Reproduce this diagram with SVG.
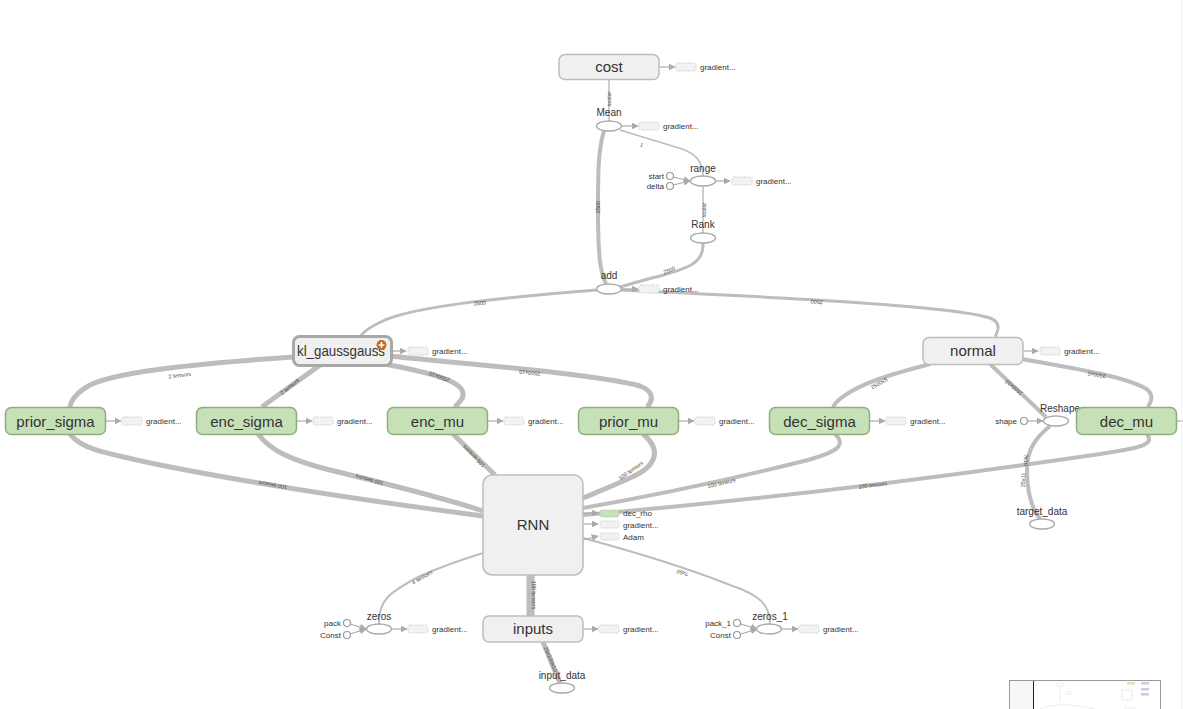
<svg xmlns="http://www.w3.org/2000/svg" width="1183" height="709" viewBox="0 0 1183 709">
<style>
text{font-family:"Liberation Sans",Arial,sans-serif;fill:#333}
.nt{font-size:15px;text-anchor:middle}
.ot{font-size:10px;text-anchor:middle}
.st{font-size:8px}
.sr{font-size:8px;text-anchor:end}
.el{font-size:5.5px;text-anchor:middle;fill:#444}
.gn{fill:#f0f0f0;stroke:#bdbdbd;stroke-width:1.5}
.gr{fill:#c6e1b7;stroke:#8fad7d;stroke-width:1.5}
.op{fill:#fff;stroke:#aaa;stroke-width:1.3}
.cn{fill:#fff;stroke:#999;stroke-width:1.2}
.ph{fill:#f2f2f2;stroke:#c8c8c8;stroke-width:0.8;stroke-dasharray:1.5 1}
.phg{fill:#c6e1b7;stroke:#a7c495;stroke-width:0.8;stroke-dasharray:1.5 1}
.e{fill:none;stroke:#bdbdbd;stroke-linecap:butt}
.a{fill:none;stroke:#aaa;stroke-width:1.2}
</style>
<defs>
<marker id="ah" viewBox="0 0 10 10" refX="9" refY="5" markerWidth="7" markerHeight="7" markerUnits="userSpaceOnUse" orient="auto">
<path d="M0,0 L10,5 L0,10 z" fill="#aaa"/>
</marker>
</defs>
<rect width="1183" height="709" fill="#fff"/>

<g id="connectors">
<line class="e" x1="609" y1="79" x2="609" y2="121" stroke-width="1.5"/>
<path class="e" stroke-width="1.5" d="M620,130 L682,149 Q703,156 703,176"/>
<line class="e" x1="703" y1="186" x2="703" y2="233" stroke-width="1.5"/>
<path class="e" stroke-width="4" d="M604,131 C598,150 598,175 598,210 C598,255 600,272 606,284"/>
<path class="e" stroke-width="3" d="M703,243 C704,262 690,268 660,276 C640,281 626,285 618,288"/>
<path class="e" stroke-width="3" d="M597,290 C520,296 420,305 385,320 C372,326 363,332 361,336"/>
<path class="e" stroke-width="3" d="M621,290 C750,296 950,305 990,318 C1002,323 998,331 995,337"/>
<path class="e" stroke-width="5" d="M293,357 C220,362 120,370 90,385 C76,393 71,400 70,407"/>
<path class="e" stroke-width="5" d="M320,365 C300,380 280,393 262,407"/>
<path class="e" stroke-width="5" d="M385,364 C420,371 455,378 462,390 C466,398 458,403 455,407"/>
<path class="e" stroke-width="5" d="M389,356 C480,365 600,375 640,386 C656,392 652,402 647,407"/>
<path class="e" stroke-width="5" d="M70,434 C80,448 100,452 160,465 C260,485 400,505 483,516"/>
<path class="e" stroke-width="5" d="M258,434 C270,450 290,460 330,470 C400,487 450,500 483,511"/>
<path class="e" stroke-width="5" d="M453,434 L495,475"/>
<path class="e" stroke-width="5" d="M643,434 C660,448 660,465 630,478 C610,487 595,493 583,498"/>
<path class="e" stroke-width="4" d="M835,434 C846,445 840,452 800,462 C720,482 640,498 583,508"/>
<path class="e" stroke-width="4" d="M1147,434 C1155,445 1140,448 1100,454 C950,476 760,500 583,515"/>
<path class="e" stroke-width="4" d="M930,364 C900,372 870,380 850,392 C840,398 835,403 833,407"/>
<path class="e" stroke-width="4" d="M990,364 L1046,417"/>
<path class="e" stroke-width="4" d="M1022,359 C1070,368 1120,375 1145,388 C1156,395 1150,403 1148,407"/>
<path class="e" stroke-width="4" d="M1050,426 C1035,438 1027,450 1027,470 C1027,495 1033,510 1040,519"/>
<path class="e" stroke-width="2" d="M379,624 C378,600 390,592 420,576 C450,563 470,557 483,553"/>
<path class="e" stroke-width="2" d="M770,624 C770,605 760,595 730,585 C680,565 620,548 583,538"/>
<line class="e" x1="530.5" y1="575" x2="530.5" y2="616" stroke-width="8"/>
<path class="e" stroke-width="5" d="M543,642 L560,683"/>

<!-- small arrows -->
<line class="a" x1="659" y1="67" x2="675" y2="67" marker-end="url(#ah)"/>
<line class="a" x1="622" y1="126" x2="638" y2="126" marker-end="url(#ah)"/>
<line class="a" x1="716" y1="181" x2="730" y2="181" marker-end="url(#ah)"/>
<line class="a" x1="622" y1="289" x2="638" y2="289" marker-end="url(#ah)"/>
<line class="a" x1="392" y1="351" x2="406" y2="351" marker-end="url(#ah)"/>
<line class="a" x1="1023" y1="351" x2="1038" y2="351" marker-end="url(#ah)"/>
<line class="a" x1="106" y1="421" x2="121" y2="421" marker-end="url(#ah)"/>
<line class="a" x1="297" y1="421" x2="312" y2="421" marker-end="url(#ah)"/>
<line class="a" x1="488" y1="421" x2="503" y2="421" marker-end="url(#ah)"/>
<line class="a" x1="678" y1="421" x2="694" y2="421" marker-end="url(#ah)"/>
<line class="a" x1="870" y1="421" x2="885" y2="421" marker-end="url(#ah)"/>
<line class="a" x1="1177" y1="421" x2="1183" y2="421"/>
<line class="a" x1="1028" y1="421" x2="1043" y2="421" marker-end="url(#ah)"/>
<line class="a" x1="673" y1="177" x2="690" y2="181" marker-end="url(#ah)"/>
<line class="a" x1="673" y1="185" x2="690" y2="181" marker-end="url(#ah)"/>
<line class="a" x1="583" y1="513" x2="598" y2="513" marker-end="url(#ah)"/>
<line class="a" x1="583" y1="524" x2="598" y2="524" marker-end="url(#ah)"/>
<line class="a" x1="583" y1="540" x2="598" y2="536" marker-end="url(#ah)"/>
<line class="a" x1="350" y1="624" x2="366" y2="629" marker-end="url(#ah)"/>
<line class="a" x1="350" y1="634" x2="366" y2="629" marker-end="url(#ah)"/>
<line class="a" x1="392" y1="629" x2="407" y2="629" marker-end="url(#ah)"/>
<line class="a" x1="583" y1="629" x2="598" y2="629" marker-end="url(#ah)"/>
<line class="a" x1="741" y1="624" x2="757" y2="629" marker-end="url(#ah)"/>
<line class="a" x1="741" y1="634" x2="757" y2="629" marker-end="url(#ah)"/>
<line class="a" x1="782" y1="629" x2="798" y2="629" marker-end="url(#ah)"/>

<!-- edge labels -->
<text class="el" transform="translate(611,99) rotate(-90)">scalar</text>
<text class="el" transform="translate(641,147) rotate(17)">1</text>
<text class="el" transform="translate(600,207) rotate(-90)">2500</text>
<text class="el" transform="translate(706,210) rotate(-90)">scalar</text>
<text class="el" transform="translate(670,272) rotate(-22)">2500</text>
<text class="el" transform="translate(480,305) rotate(-5)">2500</text>
<text class="el" transform="translate(817,300) rotate(184)">2500</text>
<text class="el" transform="translate(180,377) rotate(-7)">2 tensors</text>
<text class="el" transform="translate(291,388) rotate(-40)">2 tensors</text>
<text class="el" transform="translate(440,375) rotate(200)">2500x10</text>
<text class="el" transform="translate(530,371) rotate(186)">2500x10</text>
<text class="el" transform="translate(273,483) rotate(190)">100 tensors</text>
<text class="el" transform="translate(370,478) rotate(196)">100 tensors</text>
<text class="el" transform="translate(475,455) rotate(225)">100 tensors</text>
<text class="el" transform="translate(632,472) rotate(-35)">100 tensors</text>
<text class="el" transform="translate(722,485) rotate(-13)">100 tensors</text>
<text class="el" transform="translate(873,487) rotate(-7)">100 tensors</text>
<text class="el" transform="translate(880,385) rotate(-30)">2500x5</text>
<text class="el" transform="translate(1015,386) rotate(220)">2500x10</text>
<text class="el" transform="translate(1097,373) rotate(190)">2500x5</text>
<text class="el" transform="translate(1024,460) rotate(90)">?x10</text>
<text class="el" transform="translate(1025,480) rotate(-88)">25x11</text>
<text class="el" transform="translate(423,579) rotate(-30)">4 tensors</text>
<text class="el" transform="translate(683,571) rotate(197)">?x50</text>
<text class="el" transform="translate(532,595) rotate(90)">100 tensors</text>
<text class="el" transform="translate(549,660) rotate(67)">25x100x10</text>
</g>

<g id="cost"><rect class="gn" x="559" y="54.5" width="100" height="25" rx="6"/><text class="nt" x="609" y="72">cost</text>
<rect class="ph" x="676" y="63" width="20" height="8" rx="2"/><text class="st" x="700" y="70">gradient...</text></g>

<g id="Mean"><text class="ot" x="609" y="116">Mean</text><ellipse class="op" cx="609" cy="126" rx="12.5" ry="5"/>
<rect class="ph" x="639" y="122" width="20" height="8" rx="2"/><text class="st" x="663" y="129">gradient...</text></g>

<g id="range"><text class="ot" x="703" y="172">range</text><ellipse class="op" cx="703" cy="181" rx="12.5" ry="5"/>
<rect class="ph" x="732" y="177" width="20" height="8" rx="2"/><text class="st" x="756" y="184">gradient...</text></g>

<g id="start"><circle class="cn" cx="670" cy="176" r="3.5"/><text class="sr" x="664" y="179">start</text></g>
<g id="delta"><circle class="cn" cx="670" cy="186" r="3.5"/><text class="sr" x="664" y="189">delta</text></g>

<g id="Rank"><text class="ot" x="703" y="228">Rank</text><ellipse class="op" cx="703" cy="238" rx="12.5" ry="5"/></g>

<g id="add"><text class="ot" x="609" y="279">add</text><ellipse class="op" cx="609" cy="289" rx="12.5" ry="5"/>
<rect class="ph" x="639" y="285" width="20" height="8" rx="2"/><text class="st" x="663" y="292">gradient...</text></g>

<g id="kl_gaussgauss"><rect x="293.5" y="336.5" width="98" height="29" rx="6" fill="#f0f0f0" stroke="#a8a8a8" stroke-width="3"/>
<text class="nt" x="341" y="356" textLength="88" lengthAdjust="spacingAndGlyphs">kl_gaussgauss</text>
<circle cx="381.5" cy="345" r="5" fill="#c36a1c"/><path d="M378.5,345 h6 M381.5,342 v6" stroke="#fff" stroke-width="1.6"/>
<rect class="ph" x="408" y="347" width="20" height="8" rx="2"/><text class="st" x="432" y="354">gradient...</text></g>

<g id="normal"><rect class="gn" x="923" y="337.5" width="100" height="27" rx="6"/><text class="nt" x="973" y="356">normal</text>
<rect class="ph" x="1040" y="347" width="20" height="8" rx="2"/><text class="st" x="1064" y="354">gradient...</text></g>

<g id="prior_sigma"><rect class="gr" x="5.5" y="407.5" width="100" height="27" rx="6"/><text class="nt" x="55.5" y="426.5">prior_sigma</text>
<rect class="ph" x="122" y="417" width="20" height="8" rx="2"/><text class="st" x="146" y="424">gradient...</text></g>

<g id="enc_sigma"><rect class="gr" x="196.5" y="407.5" width="100" height="27" rx="6"/><text class="nt" x="246.5" y="426.5">enc_sigma</text>
<rect class="ph" x="313" y="417" width="20" height="8" rx="2"/><text class="st" x="337" y="424">gradient...</text></g>

<g id="enc_mu"><rect class="gr" x="387.5" y="407.5" width="100" height="27" rx="6"/><text class="nt" x="437.5" y="426.5">enc_mu</text>
<rect class="ph" x="504" y="417" width="20" height="8" rx="2"/><text class="st" x="528" y="424">gradient...</text></g>

<g id="prior_mu"><rect class="gr" x="578.5" y="407.5" width="100" height="27" rx="6"/><text class="nt" x="628.5" y="426.5">prior_mu</text>
<rect class="ph" x="695" y="417" width="20" height="8" rx="2"/><text class="st" x="719" y="424">gradient...</text></g>

<g id="dec_sigma"><rect class="gr" x="769.5" y="407.5" width="100" height="27" rx="6"/><text class="nt" x="819.5" y="426.5">dec_sigma</text>
<rect class="ph" x="886" y="417" width="20" height="8" rx="2"/><text class="st" x="910" y="424">gradient...</text></g>

<g id="Reshape"><text class="ot" x="1060" y="412">Reshape</text><ellipse class="op" cx="1056" cy="421" rx="12.5" ry="5"/></g>
<g id="shape"><circle class="cn" cx="1024" cy="421" r="3.5"/><text class="sr" x="1017" y="424">shape</text></g>

<g id="dec_mu"><rect class="gr" x="1076.5" y="407.5" width="100" height="27" rx="6"/><text class="nt" x="1126.5" y="426.5">dec_mu</text></g>

<g id="target_data"><text class="ot" x="1042" y="515">target_data</text><ellipse class="op" cx="1042" cy="524" rx="12.5" ry="5"/></g>

<g id="RNN"><rect class="gn" x="483" y="475" width="100" height="100" rx="9"/><text class="nt" x="533" y="530">RNN</text></g>
<g id="dec_rho"><rect class="phg" x="600" y="510" width="19" height="7" rx="2"/><text class="st" x="623" y="516">dec_rho</text></g>
<g id="gradients_rnn"><rect class="ph" x="600" y="521" width="19" height="7" rx="2"/><text class="st" x="623" y="528">gradient...</text></g>
<g id="Adam"><rect class="ph" x="600" y="533" width="19" height="7" rx="2"/><text class="st" x="623" y="540">Adam</text></g>

<g id="zeros"><text class="ot" x="379" y="620">zeros</text><ellipse class="op" cx="379" cy="629" rx="12.5" ry="5"/>
<rect class="ph" x="408" y="625" width="20" height="8" rx="2"/><text class="st" x="432" y="632">gradient...</text></g>
<g id="pack"><circle class="cn" cx="347" cy="623" r="3.5"/><text class="sr" x="341" y="626">pack</text></g>
<g id="Const"><circle class="cn" cx="347" cy="635" r="3.5"/><text class="sr" x="341" y="638">Const</text></g>

<g id="inputs"><rect class="gn" x="483" y="616" width="100" height="26" rx="6"/><text class="nt" x="533" y="634">inputs</text>
<rect class="ph" x="599" y="625" width="20" height="8" rx="2"/><text class="st" x="623" y="632">gradient...</text></g>

<g id="input_data"><text class="ot" x="562" y="679">input_data</text><ellipse class="op" cx="562" cy="688" rx="12.5" ry="5"/></g>

<g id="zeros_1"><text class="ot" x="770" y="620">zeros_1</text><ellipse class="op" cx="769" cy="629" rx="12.5" ry="5"/>
<rect class="ph" x="799" y="625" width="20" height="8" rx="2"/><text class="st" x="823" y="632">gradient...</text></g>
<g id="pack_1"><circle class="cn" cx="737" cy="623" r="3.5"/><text class="sr" x="731" y="626">pack_1</text></g>
<g id="Const_1"><circle class="cn" cx="737" cy="635" r="3.5"/><text class="sr" x="731" y="638">Const</text></g>

<g id="minimap">
<rect x="1009.5" y="680.5" width="151" height="40" fill="#fff" stroke="#999" stroke-width="1"/>
<rect x="1010" y="681" width="23" height="28" fill="#f7f7f7"/>
<line x1="1033.5" y1="681" x2="1033.5" y2="709" stroke="#222" stroke-width="1"/>
<g opacity="0.35" fill="none" stroke="#aaa" stroke-width="0.6">
<rect x="1056" y="683" width="8" height="3" rx="1"/>
<line x1="1060" y1="686" x2="1060" y2="702"/>
<ellipse cx="1069" cy="693" rx="3" ry="1.5"/>
<path d="M1040,709 C1050,704 1070,703 1095,709"/>
<rect x="1122" y="690" width="10" height="10" rx="1"/>
<rect x="1125" y="708" width="10" height="3"/>
</g>
<g opacity="0.5">
<rect x="1127" y="682" width="8" height="2.5" fill="#9bd48a"/>
<rect x="1141" y="682" width="8" height="2.5" fill="#8aa0cc"/>
<rect x="1141" y="688" width="8" height="2.5" fill="#8aa0cc"/>
<rect x="1141" y="693" width="8" height="2.5" fill="#8aa0cc"/>
</g>
</g>
<line x1="1181.5" y1="0" x2="1181.5" y2="709" stroke="#f2f2f2" stroke-width="1"/>
</svg>
